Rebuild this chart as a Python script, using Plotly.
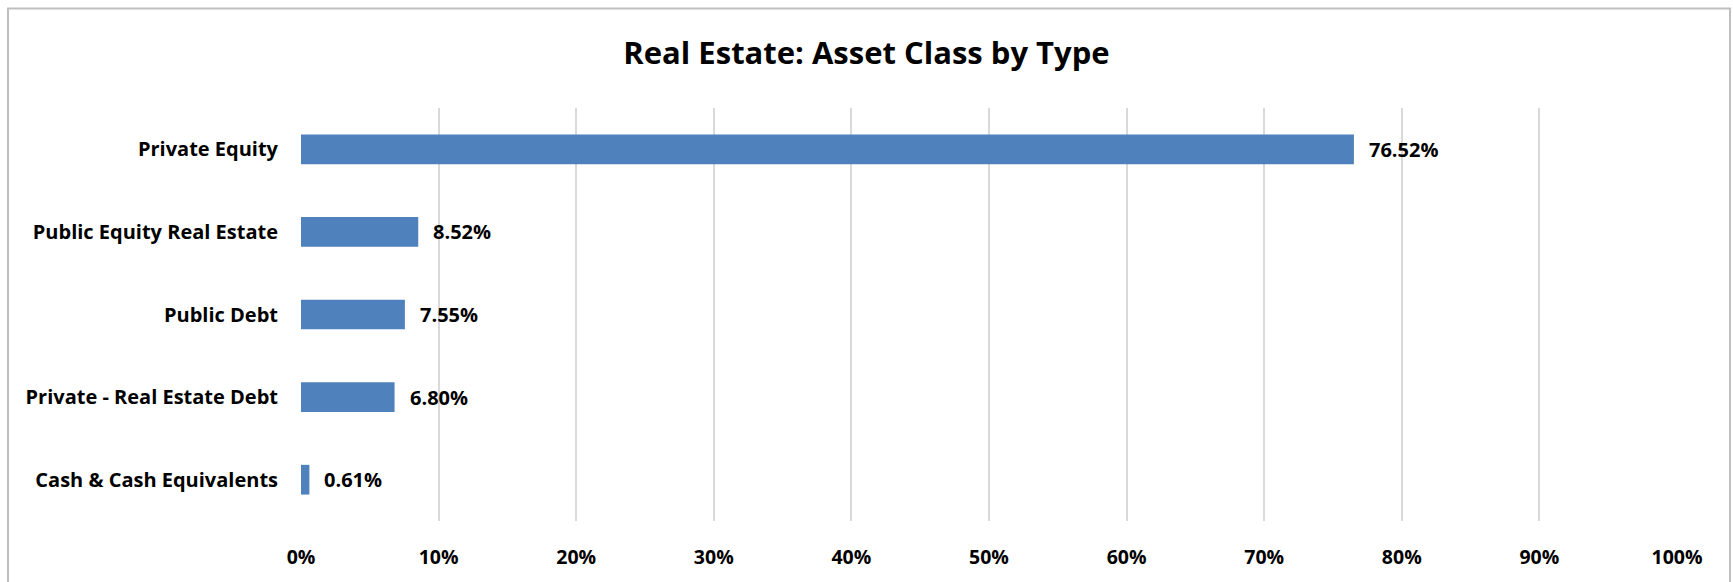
import plotly.graph_objects as go

# Asset class breakdown (percent of real estate portfolio)
categories = [
    "Private Equity",
    "Public Equity Real Estate",
    "Public Debt",
    "Private - Real Estate Debt",
    "Cash & Cash Equivalents",
]
shares = [76.52, 8.52, 7.55, 6.80, 0.61]
x_ticks = [0, 10, 20, 30, 40, 50, 60, 70, 80, 90, 100]
x_tick_labels = [f"{t}%" for t in x_ticks]

FONT = "Open Sans"
BAR_BLUE = "#4F81BD"
GRID = "#D9D9D9"

W, H = 1733, 582
M_L, M_R, M_T, M_B = 301, 56, 108, 59
plot_w = W - M_L - M_R
plot_h = H - M_T - M_B

fig = go.Figure()
fig.add_trace(go.Bar(
    y=categories,
    x=shares,
    orientation="h",
    width=0.36,
    marker=dict(color=BAR_BLUE, line=dict(width=0)),
    hoverinfo="skip",
))

# value labels just past the end of each bar
for cat, val in zip(categories, shares):
    fig.add_annotation(
        x=val, y=cat, xref="x", yref="y",
        text=f"<b>{val:.2f}%</b>",
        showarrow=False, xanchor="left", yanchor="middle",
        xshift=13,
        font=dict(family=FONT, size=20, color="#000000"),
    )

# light grey chart frame around the whole figure
def px_to_paper_x(px):
    return (px - M_L) / plot_w

def px_to_paper_y(py):
    return (H - M_B - py) / plot_h

fig.add_shape(
    type="rect", xref="paper", yref="paper",
    x0=px_to_paper_x(8), x1=px_to_paper_x(1730),
    y0=px_to_paper_y(620), y1=px_to_paper_y(8),
    line=dict(color="#BFBFBF", width=2), fillcolor="rgba(0,0,0,0)",
    layer="below",
)

fig.update_layout(
    width=W, height=H,
    margin=dict(l=M_L, r=M_R, t=M_T, b=M_B, pad=0),
    paper_bgcolor="white", plot_bgcolor="white",
    showlegend=False,
    title=dict(
        text="<b>Real Estate: Asset Class by Type</b>",
        x=0.5, xanchor="center", xref="container",
        y=1 - 53 / H, yanchor="middle", yref="container",
        font=dict(family=FONT, size=31, color="#000000"),
    ),
    xaxis=dict(
        range=[0, 100],
        tickmode="array", tickvals=x_ticks, ticktext=[f"<b>{t}</b>" for t in x_tick_labels],
        showgrid=True, gridcolor=GRID, gridwidth=2,
        zeroline=False, showline=False, ticks="",
        ticklabelstandoff=22,
        tickfont=dict(family=FONT, size=19.5, color="#000000"),
        fixedrange=True,
    ),
    yaxis=dict(
        categoryorder="array", categoryarray=categories,
        autorange="reversed",
        showgrid=False, zeroline=False, showline=False, ticks="",
        ticklabelstandoff=22,
        tickvals=categories, ticktext=[f"<b>{c}</b>" for c in categories],
        tickfont=dict(family=FONT, size=20, color="#000000"),
        fixedrange=True,
    ),
)

fig.write_html("out.html", config={"displayModeBar": False})
